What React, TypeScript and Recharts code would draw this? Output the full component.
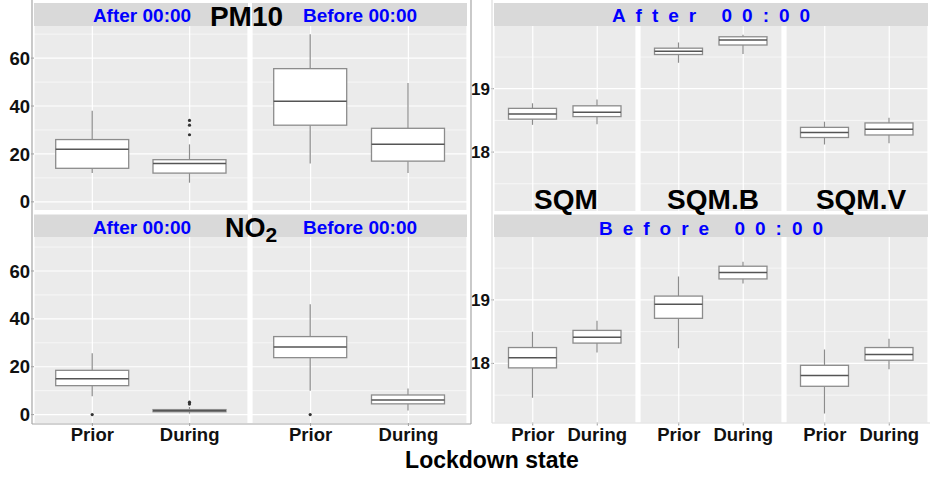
import React from 'react';
import { ComposedChart, Bar, XAxis, YAxis, CartesianGrid } from 'recharts';

const FONT = '"Liberation Sans", Arial, Helvetica, sans-serif';

// categories
const states = ['Prior', 'During'];

// five-number summaries per state: [lower whisker, Q1, median, Q3, upper whisker]
const pm10After = [[12, 14, 22, 26, 38], [8, 12, 16, 17.6, 24]];
const pm10AfterOut = [[], [28, 32, 34]];
const pm10Before = [[16, 32, 42, 55.6, 70], [12, 17, 24, 30.7, 49.6]];
const pm10BeforeOut = [[], []];

const no2After = [[7.7, 12.1, 15, 18.5, 25.6], [0.4, 1.2, 1.6, 2.1, 3.2]];
const no2AfterOut = [[0], [4.4, 5.2]];
const no2Before = [[10, 23.8, 28.3, 32.6, 46.1], [1.7, 4.5, 6.1, 8.2, 10.9]];
const no2BeforeOut = [[0], []];

const sqmAfter = [[18.43, 18.52, 18.6, 18.69, 18.77], [18.44, 18.56, 18.63, 18.73, 18.83]];
const sqmBAfter = [[19.41, 19.54, 19.59, 19.64, 19.73], [19.55, 19.69, 19.77, 19.82, 19.85]];
const sqmVAfter = [[18.12, 18.23, 18.31, 18.39, 18.48], [18.14, 18.27, 18.36, 18.46, 18.54]];
const sqmBefore = [[17.46, 17.93, 18.09, 18.25, 18.5], [18.17, 18.32, 18.41, 18.52, 18.67]];
const sqmBBefore = [[18.24, 18.71, 18.93, 19.06, 19.37], [19.26, 19.33, 19.43, 19.53, 19.6]];
const sqmVBefore = [[17.21, 17.64, 17.81, 17.97, 18.22], [17.91, 18.05, 18.14, 18.25, 18.39]];
const noOut = [[], []];

// tick labels / grid values
const pollutantTicks = [0, 20, 40, 60];
const pollutantMinor = [10, 30, 50, 70];
const sqmTicks = [18, 19];
const sqmMinor = [17.5, 18.5, 19.5];

const pm10Domain = [-3.4, 73.4];
const no2Domain = [-3.5, 74.2];
const sqmDomain = [17.07, 19.99];

const buildData = (stats: number[][], outs: number[][]) =>
  states.map((s, i) => {
    const [lo, q1, med, q3, hi] = stats[i];
    return { state: s, range: [lo, hi], lo, q1, med, q3, hi, out: outs[i] };
  });

const BoxShape = (props: any) => {
  const { x, y, width, height, payload } = props;
  if (!payload || height == null) return null;
  const { lo, q1, med, q3, hi, out } = payload;
  const py = (v: number) => y + ((hi - v) / (hi - lo)) * height;
  const cx = x + width / 2;
  const stroke = '#8c8c8c';
  return (
    <g>
      <line x1={cx} x2={cx} y1={py(hi)} y2={py(q3)} stroke={stroke} strokeWidth={1.2} />
      <line x1={cx} x2={cx} y1={py(q1)} y2={py(lo)} stroke={stroke} strokeWidth={1.2} />
      <rect x={x} y={py(q3)} width={width} height={Math.max(py(q1) - py(q3), 0.5)} fill="#ffffff" stroke={stroke} strokeWidth={1.3} />
      <line x1={x} x2={x + width} y1={py(med)} y2={py(med)} stroke="#555555" strokeWidth={1.5} />
      {(out as number[]).map((v, k) => (
        <circle key={k} cx={cx} cy={py(v)} r={1.6} fill="#333333" />
      ))}
    </g>
  );
};

type PanelProps = {
  left: number;
  top: number;
  plotW: number;
  plotH: number;
  axisW: number;
  showX: boolean;
  stats: number[][];
  outs: number[][];
  domain: number[];
  ticks: number[];
  minor: number[];
  pad: number;
  barSize: number;
  yFont: number;
};

const Panel = ({ left, top, plotW, plotH, axisW, showX, stats, outs, domain, ticks, minor, pad, barSize, yFont }: PanelProps) => {
  const xH = showX ? 30 : 0;
  const data = buildData(stats, outs);
  return (
    <div style={{ position: 'absolute', left, top, width: axisW + plotW, height: plotH + xH, overflow: 'visible' }}>
      <ComposedChart
        width={axisW + plotW}
        height={plotH + xH}
        data={data}
        margin={{ top: 0, right: 0, bottom: 0, left: 0 }}
        style={{ overflow: 'visible' }}
      >
        <CartesianGrid fill="#EBEBEB" stroke="#ffffff" strokeWidth={0.6} horizontalValues={minor} vertical={false} syncWithTicks={false} />
        <CartesianGrid fill="none" stroke="#ffffff" strokeWidth={1.2} horizontalValues={ticks} />
        <XAxis
          dataKey="state"
          type="category"
          padding={{ left: pad, right: pad }}
          hide={!showX}
          height={xH}
          axisLine={false}
          tickSize={3}
          tickMargin={2}
          tickLine={{ stroke: '#9a9a9a' }}
          interval={0}
          tick={{ fontSize: 18.5, fontWeight: 700, fill: '#111111', fontFamily: FONT }}
        />
        <YAxis
          type="number"
          domain={domain}
          allowDataOverflow
          ticks={ticks}
          interval={0}
          hide={axisW === 0}
          width={axisW}
          axisLine={false}
          tickSize={3}
          tickMargin={1}
          tickLine={{ stroke: '#9a9a9a' }}
          tick={{ fontSize: yFont, fontWeight: 700, fill: '#111111', fontFamily: FONT }}
        />
        <Bar dataKey="range" barSize={barSize} shape={BoxShape} isAnimationActive={false} />
      </ComposedChart>
    </div>
  );
};

export default function App() {
  const blue = '#0000ff';
  const lp = { pad: 9.7, barSize: 73, ticks: pollutantTicks, minor: pollutantMinor, yFont: 18.5 };
  const rp = { pad: 6.5, barSize: 48, ticks: sqmTicks, minor: sqmMinor, yFont: 17, domain: sqmDomain };
  return (
    <div style={{ position: 'absolute', left: 0, top: 0, width: 930, height: 478, background: '#ffffff', overflow: 'hidden', fontFamily: FONT }}>
      <style>{'.recharts-surface{overflow:visible}.recharts-wrapper{overflow:visible}'}</style>
      {/* left: pollutants */}
      <Panel left={0} top={26} plotW={214} plotH={184} axisW={34} showX={false} stats={pm10After} outs={pm10AfterOut} domain={pm10Domain} {...lp} />
      <Panel left={252} top={26} plotW={215} plotH={184} axisW={0} showX={false} stats={pm10Before} outs={pm10BeforeOut} domain={pm10Domain} {...lp} />
      <Panel left={0} top={237} plotW={214} plotH={186} axisW={34} showX={true} stats={no2After} outs={no2AfterOut} domain={no2Domain} {...lp} />
      <Panel left={252} top={237} plotW={215} plotH={186} axisW={0} showX={true} stats={no2Before} outs={no2BeforeOut} domain={no2Domain} {...lp} />

      {/* right: sky quality */}
      <Panel left={465} top={26} plotW={142} plotH={185} axisW={29} showX={false} stats={sqmAfter} outs={noOut} {...rp} />
      <Panel left={640} top={26} plotW={142} plotH={185} axisW={0} showX={false} stats={sqmBAfter} outs={noOut} {...rp} />
      <Panel left={786} top={26} plotW={142} plotH={185} axisW={0} showX={false} stats={sqmVAfter} outs={noOut} {...rp} />
      <Panel left={465} top={237} plotW={142} plotH={185.5} axisW={29} showX={true} stats={sqmBefore} outs={noOut} {...rp} />
      <Panel left={640} top={237} plotW={142} plotH={185.5} axisW={0} showX={true} stats={sqmBBefore} outs={noOut} {...rp} />
      <Panel left={786} top={237} plotW={142} plotH={185.5} axisW={0} showX={true} stats={sqmVBefore} outs={noOut} {...rp} />

      <svg width={930} height={478} style={{ position: 'absolute', left: 0, top: 0, pointerEvents: 'none' }}>
        {/* strips */}
        <rect x={34} y={3} width={214} height={23} fill="#D9D9D9" />
        <rect x={252} y={3} width={215} height={23} fill="#D9D9D9" />
        <rect x={34} y={214.5} width={214} height={22.5} fill="#D9D9D9" />
        <rect x={252} y={214.5} width={215} height={22.5} fill="#D9D9D9" />
        <rect x={494} y={3} width={434} height={23} fill="#D9D9D9" />
        <rect x={494} y={214.5} width={434} height={22.5} fill="#D9D9D9" />

        {/* frame lines */}
        <line x1={32} x2={32} y1={0} y2={424} stroke="#a6a6a6" strokeWidth={1.2} />
        <line x1={32} x2={471} y1={424} y2={424} stroke="#a6a6a6" strokeWidth={1.2} />
        <line x1={471} x2={471} y1={0} y2={424} stroke="#a6a6a6" strokeWidth={1.2} />
        <line x1={492} x2={492} y1={0} y2={423} stroke="#dcdcdc" strokeWidth={1.2} />
        <line x1={492} x2={930} y1={423} y2={423} stroke="#dcdcdc" strokeWidth={1.2} />

        <g fontFamily={FONT} fontWeight={700}>
          <text x={142} y={22.3} fontSize={19} fill={blue} textAnchor="middle">After 00:00</text>
          <text x={360} y={22.3} fontSize={19} fill={blue} textAnchor="middle">Before 00:00</text>
          <text x={142} y={234} fontSize={19} fill={blue} textAnchor="middle">After 00:00</text>
          <text x={360} y={234} fontSize={19} fill={blue} textAnchor="middle">Before 00:00</text>

          <text x={246.5} y={25.7} fontSize={28} fill="#000" textAnchor="middle">PM10</text>
          <text x={225} y={237.3} fontSize={27} fill="#000">
            NO<tspan fontSize={21} dy={5}>2</tspan>
          </text>

          <text x={716} y={21.7} fontSize={19} fill={blue} textAnchor="middle" letterSpacing={10}>After 00:00</text>
          <text x={716} y={235} fontSize={19} fill={blue} textAnchor="middle" letterSpacing={10}>Before 00:00</text>

          <text x={566} y={209.3} fontSize={28} fill="#000" textAnchor="middle">SQM</text>
          <text x={713} y={209.3} fontSize={28} fill="#000" textAnchor="middle">SQM.B</text>
          <text x={861} y={209.3} fontSize={28} fill="#000" textAnchor="middle">SQM.V</text>

          <text x={492} y={468.3} fontSize={23} fill="#000" textAnchor="middle">Lockdown state</text>
        </g>
      </svg>
    </div>
  );
}
